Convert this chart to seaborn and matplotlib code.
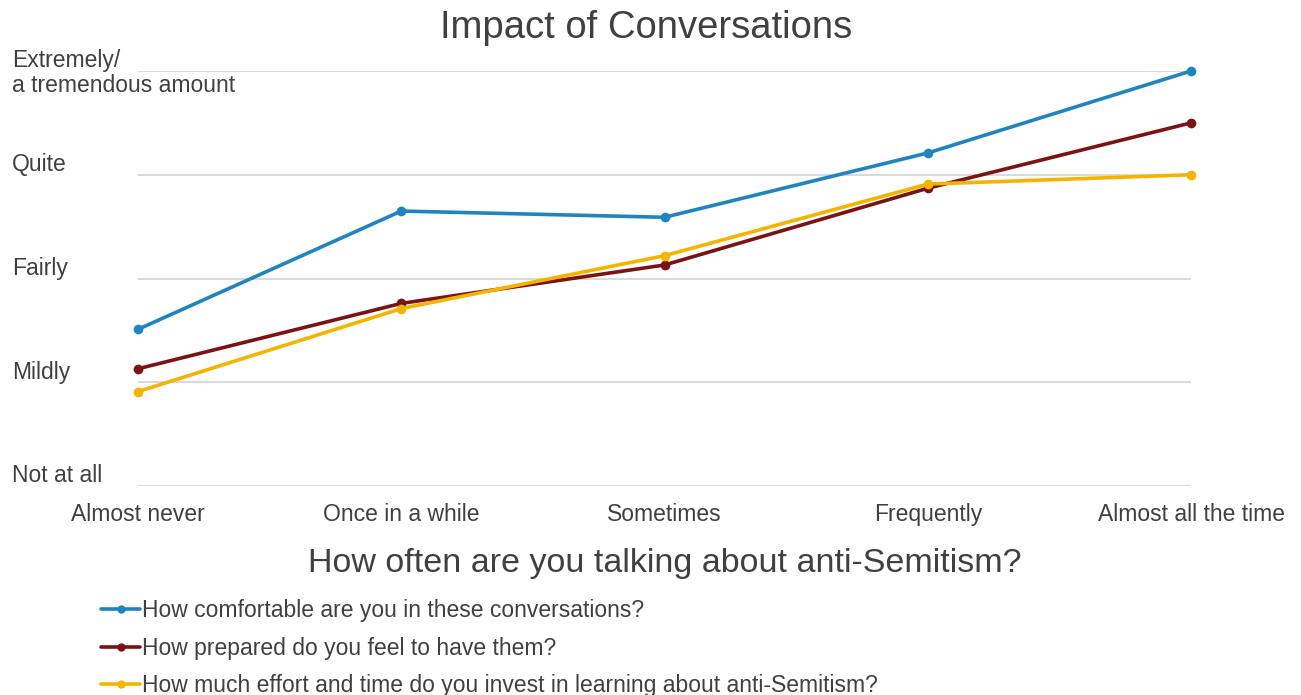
import pandas as pd
import matplotlib.pyplot as plt
import matplotlib.transforms as mtransforms
import seaborn as sns

# Data (0 = Not at all ... 4 = Extremely)
frequency = ['Almost never', 'Once in a while', 'Sometimes', 'Frequently', 'Almost all the time']
comfortable = [1.51, 2.65, 2.59, 3.21, 4.00]
prepared = [1.13, 1.76, 2.13, 2.87, 3.50]
effort = [0.91, 1.71, 2.22, 2.91, 3.00]
series_names = ['How comfortable are you in these conversations?',
                'How prepared do you feel to have them?',
                'How much effort and time do you invest in learning about anti-Semitism?']
impact_labels = ['Not at all', 'Mildly', 'Fairly', 'Quite', 'Extremely/\na tremendous amount']
colors = ['#1F84BF', '#7B1315', '#F5B400']


def create_line_plot():
    rows = []
    for name, vals in zip(series_names, [comfortable, prepared, effort]):
        for i, v in enumerate(vals):
            rows.append({'pos': i, 'score': v, 'series': name})
    df = pd.DataFrame(rows)

    sns.set_style('white')
    plt.rcParams['font.family'] = ['Liberation Sans', 'DejaVu Sans']
    text_color = '#404040'

    fig = plt.figure(figsize=(13.01, 6.95), dpi=100, facecolor='white')
    ax = fig.add_axes([138 / 1301, 1 - 486 / 695, (1191 - 138) / 1301, (486 - 71) / 695])

    sns.lineplot(data=df, x='pos', y='score', hue='series', hue_order=series_names,
                 palette=colors, marker='o', markersize=7, markeredgewidth=0,
                 linewidth=2.6, ax=ax, clip_on=False, legend=False)

    ax.set_xlim(0, len(frequency) - 1)
    ax.set_ylim(0, 4)
    ax.set_yticks(range(5))
    ax.set_yticklabels([])
    ax.set_xticks(range(len(frequency)))
    ax.set_xticklabels(frequency, fontsize=16.5, color=text_color)
    ax.tick_params(axis='both', length=0)
    ax.tick_params(axis='x', pad=12)
    ax.grid(axis='y', color='#D0D0D0', linewidth=1.1)
    ax.set_axisbelow(True)
    for s in ax.spines.values():
        s.set_visible(False)
    ax.set_xlabel('How often are you talking about anti-Semitism?', fontsize=24.5,
                  color=text_color, labelpad=16)
    ax.set_ylabel('')

    # y category labels, left aligned at figure edge
    blend = mtransforms.blended_transform_factory(fig.transFigure, ax.transData)
    for i, lab in enumerate(impact_labels):
        off = 2 if '\n' in lab else -10
        tr = mtransforms.offset_copy(blend, fig=fig, x=0, y=-off, units='dots')
        ax.text(12 / 1301, i, lab, transform=tr, ha='left', va='center',
                fontsize=16.5, color=text_color, linespacing=1.15)

    fig.text(0.497, 1 - 28 / 695, 'Impact of Conversations', ha='center', va='center',
             fontsize=27.5, color=text_color)

    handles = [plt.Line2D([], [], color=c, marker='o', markersize=6, markeredgewidth=0,
                          linewidth=2.6) for c in colors]
    fig.legend(handles, series_names, loc='upper left',
               bbox_to_anchor=(90 / 1301, 1 - 588 / 695), frameon=False,
               fontsize=16.5, handlelength=1.7, handletextpad=0.08,
               labelspacing=0.62, borderpad=0, labelcolor=text_color)

    plt.savefig('out.png', dpi=100, facecolor='white')
    plt.close()


if __name__ == "__main__":
    create_line_plot()
